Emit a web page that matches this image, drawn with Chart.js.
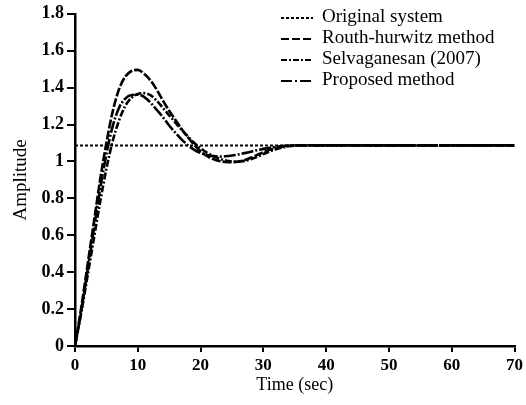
<!DOCTYPE html>
<html lang="en">
<head>
  <meta charset="UTF-8">
  <title>Amplitude vs Time</title>
  <style>
    html, body {
      margin: 0;
      padding: 0;
      background: #fff;
    }
    #wrap {
      width: 526px;
      height: 405px;
    }
  </style>
  <script src="https://cdn.jsdelivr.net/npm/chart.js"></script>
</head>
<body>
  <div id="wrap">
    <canvas id="stepChart" width="526" height="405"></canvas>
  </div>

  <script>
    // Values
    const timeSec = [0, 1, 2, 3, 4, 5, 6, 7, 8, 9, 10, 11, 12, 13, 14, 15, 16, 17, 18, 19, 20,
      21, 22, 23, 24, 25, 26, 27, 28, 29, 30, 31, 32, 33, 34, 35, 36, 40, 50, 60, 70];

    const routhHurwitz = [0, 0.21, 0.44, 0.67, 0.90, 1.10, 1.27, 1.39, 1.46, 1.49, 1.496,
      1.475, 1.44, 1.39, 1.33, 1.275, 1.225, 1.175, 1.13, 1.09, 1.055,
      1.03, 1.013, 1.002, 0.997, 0.996, 0.999, 1.007, 1.02, 1.035, 1.05,
      1.063, 1.073, 1.08, 1.085, 1.087, 1.088, 1.088, 1.087, 1.087, 1.087];

    const selvaganesan = [0, 0.18, 0.38, 0.58, 0.78, 0.96, 1.11, 1.22, 1.30, 1.345, 1.365,
      1.37, 1.36, 1.33, 1.29, 1.25, 1.21, 1.17, 1.135, 1.10, 1.072,
      1.048, 1.03, 1.015, 1.005, 1.0, 0.999, 1.003, 1.012, 1.025, 1.04,
      1.054, 1.066, 1.075, 1.082, 1.086, 1.087, 1.087, 1.087, 1.087, 1.087];

    const proposed = [0, 0.19, 0.41, 0.63, 0.85, 1.04, 1.19, 1.29, 1.34, 1.36, 1.362,
      1.35, 1.32, 1.28, 1.24, 1.195, 1.155, 1.118, 1.087, 1.063, 1.046,
      1.035, 1.029, 1.027, 1.028, 1.032, 1.038, 1.045, 1.053, 1.061, 1.068,
      1.074, 1.079, 1.083, 1.086, 1.087, 1.087, 1.087, 1.087, 1.087, 1.087];

    const originalTime = [0, 70];
    const originalSystem = [1.087, 1.087];

    const xTicks = [0, 10, 20, 30, 40, 50, 60, 70];
    const yTicks = [0, 0.2, 0.4, 0.6, 0.8, 1, 1.2, 1.4, 1.6, 1.8];

    const seriesNames = ['Original system', 'Routh-hurwitz method', 'Selvaganesan (2007)', 'Proposed method'];

    const serif = '"Liberation Serif", "Times New Roman", serif';

    function toPoints(xs, ys) {
      return xs.map((x, i) => ({ x: x, y: ys[i] }));
    }

    function makeSet(label, xs, ys, dash, width) {
      return {
        label: label,
        data: toPoints(xs, ys),
        borderColor: '#000',
        borderWidth: width,
        borderDash: dash,
        pointRadius: 0,
        fill: false,
        tension: 0.4,
        cubicInterpolationMode: 'monotone'
      };
    }

    // legend drawn in the top right corner of the plot, like the original figure
    const cornerLegend = {
      id: 'cornerLegend',
      afterDraw(chart) {
        const ctx = chart.ctx;
        const sets = chart.data.datasets;
        ctx.save();
        ctx.font = '19px ' + serif;
        ctx.fillStyle = '#000';
        ctx.textBaseline = 'middle';
        sets.forEach((ds, i) => {
          const y = 18 + i * 21;
          ctx.strokeStyle = '#000';
          ctx.lineWidth = 2;
          ctx.setLineDash(ds.legendDash);
          ctx.beginPath();
          ctx.moveTo(281, y);
          ctx.lineTo(313, y);
          ctx.stroke();
          ctx.setLineDash([]);
          ctx.fillText(ds.label, 322, y - 1);
        });
        ctx.restore();
      }
    };

    const original = makeSet(seriesNames[0], originalTime, originalSystem, [3, 2], 2);
    original.legendDash = [3, 2];
    const routh = makeSet(seriesNames[1], timeSec, routhHurwitz, [9, 2], 2.6);
    routh.legendDash = [8, 3];
    const selv = makeSet(seriesNames[2], timeSec, selvaganesan, [7, 2, 2, 2], 2.6);
    selv.legendDash = [6, 2, 2, 2];
    const prop = makeSet(seriesNames[3], timeSec, proposed, [12, 2, 2, 2], 2.6);
    prop.legendDash = [11, 3, 2, 3];

    new Chart(document.getElementById('stepChart'), {
      type: 'line',
      data: {
        datasets: [original, routh, selv, prop]
      },
      options: {
        responsive: false,
        animation: false,
        layout: {
          padding: { left: 0, right: 10, top: 13, bottom: 0 }
        },
        plugins: {
          legend: { display: false },
          tooltip: { enabled: false }
        },
        scales: {
          x: {
            type: 'linear',
            min: 0,
            max: 70,
            afterFit(scale) { scale.height = 59; },
            afterBuildTicks(scale) { scale.ticks = xTicks.map(v => ({ value: v })); },
            border: { display: true, color: '#000', width: 2.5 },
            grid: { drawOnChartArea: false, drawTicks: true, tickLength: 6, color: '#000', lineWidth: 2 },
            ticks: {
              color: '#000',
              padding: 3,
              maxRotation: 0,
              font: { family: serif, size: 17, weight: 'bold' }
            },
            title: {
              display: true,
              text: 'Time (sec)',
              color: '#000',
              padding: { top: 0, bottom: 9 },
              font: { family: serif, size: 18 }
            }
          },
          y: {
            type: 'linear',
            min: 0,
            max: 1.8,
            afterFit(scale) { scale.width = 75; },
            afterBuildTicks(scale) { scale.ticks = yTicks.map(v => ({ value: v })); },
            border: { display: true, color: '#000', width: 2.5 },
            grid: { drawOnChartArea: false, drawTicks: true, tickLength: 8, color: '#000', lineWidth: 2 },
            ticks: {
              color: '#000',
              padding: 3,
              font: { family: serif, size: 18, weight: 'bold' },
              callback: v => String(Math.round(v * 10) / 10)
            },
            title: {
              display: true,
              text: 'Amplitude',
              color: '#000',
              padding: { top: 10, bottom: 0 },
              font: { family: serif, size: 19 }
            }
          }
        }
      },
      plugins: [cornerLegend]
    });
  </script>
</body>
</html>
